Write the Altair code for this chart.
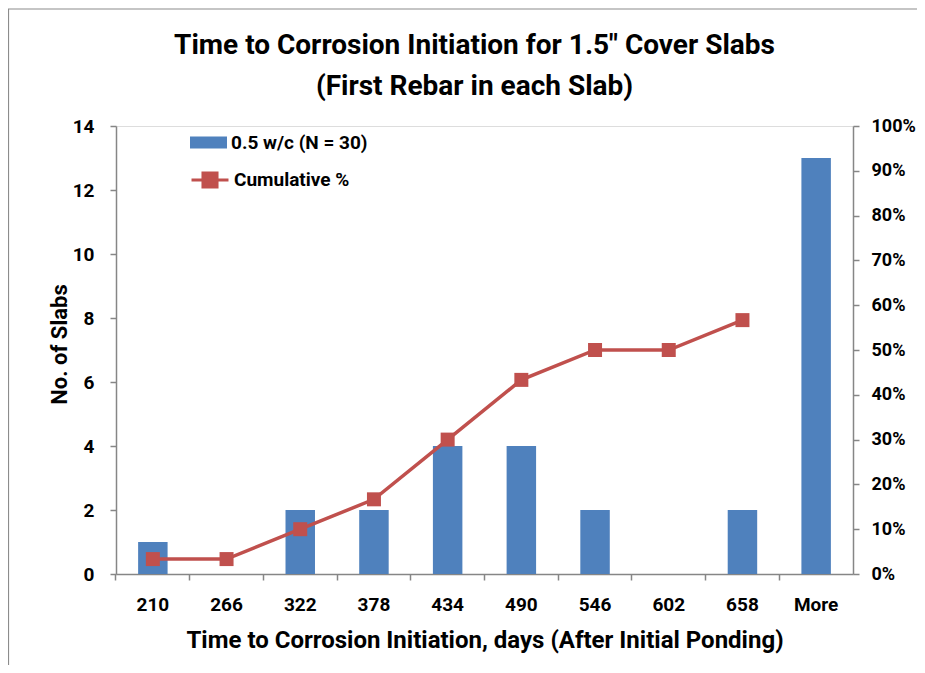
import altair as alt
import pandas as pd

categories = ["210", "266", "322", "378", "434", "490", "546", "602", "658", "More"]
counts = [1, 0, 2, 2, 4, 4, 2, 0, 2, 13]
cumulative = [0.0333, 0.0333, 0.10, 0.1667, 0.30, 0.4333, 0.50, 0.50, 0.5667, None]
bar_series = "0.5 w/c (N = 30)"
line_series = "Cumulative %"
y_left_ticks = [0, 2, 4, 6, 8, 10, 12, 14]
y_right_ticks = [i / 10 for i in range(11)]

df = pd.DataFrame({"bin": categories, "count": counts, "cum": cumulative})
df["s1"] = bar_series
df["s2"] = line_series

FONT = "Roboto"
BLUE = "#4F81BD"
RED = "#C0504D"
GRAY = "#868686"

xscale = alt.Scale(domain=categories, paddingInner=0.6, paddingOuter=0.3)
base = alt.Chart(df)

bars = base.mark_bar(color=BLUE).encode(
    x=alt.X("bin:N", scale=xscale, axis=alt.Axis(
        title="Time to Corrosion Initiation, days (After Initial Ponding)",
        labelAngle=0, ticks=False, domainColor=GRAY, domainWidth=1.5,
        labelPadding=21, labelFontSize=19, labelFont=FONT, labelFontWeight="bold",
        labelColor="black", titleFontSize=24, titleFont=FONT, titleFontWeight="bold",
        titleColor="black", titleY=66, titleBaseline="middle")),
    y=alt.Y("count:Q", scale=alt.Scale(domain=[0, 14], nice=False), axis=alt.Axis(
        values=y_left_ticks, title="No. of Slabs", grid=False, tickSize=6,
        tickColor=GRAY, tickWidth=1.5, domainColor=GRAY, domainWidth=1.5,
        labelPadding=16, labelFontSize=19, labelFont=FONT, labelFontWeight="bold",
        labelColor="black", titleFontSize=22, titleFont=FONT, titleFontWeight="bold",
        titleColor="black", titleX=-57, titleY=218, titleBaseline="middle",
        titleAlign="center")),
    fill=alt.Fill("s1:N", scale=alt.Scale(domain=[bar_series], range=[BLUE]),
                  legend=alt.Legend(title=None, orient="none", legendX=80, legendY=4,
                                    symbolType="M-1.5,-0.49H1.5V0.49H-1.5Z", symbolSize=608,
                                    symbolStrokeWidth=0, labelFont=FONT, labelFontSize=19,
                                    labelFontWeight="bold", labelColor="black",
                                    labelOffset=10, padding=0)),
)

line = base.transform_filter("datum.cum != null").mark_line(
    strokeWidth=3.5,
    point=alt.OverlayMarkDef(shape="square", size=196, filled=True, opacity=1),
).encode(
    x=alt.X("bin:N", scale=xscale, axis=alt.Axis(
        title=None, labels=False, domain=False, ticks=True, tickSize=6,
        bandPosition=-0.75, orient="bottom", tickColor=GRAY, tickWidth=1.5)),
    y=alt.Y("cum:Q", scale=alt.Scale(domain=[0, 1], nice=False), axis=alt.Axis(
        orient="right", format=".0%", values=y_right_ticks, title=None, grid=False,
        tickSize=6, tickColor=GRAY, tickWidth=1.5, domainColor=GRAY, domainWidth=1.5,
        labelPadding=12, labelFontSize=18, labelFont=FONT, labelFontWeight="bold",
        labelColor="black")),
    color=alt.Color("s2:N", scale=alt.Scale(domain=[line_series], range=[RED]),
                    legend=alt.Legend(title=None, orient="none", legendX=80, legendY=40,
                                      symbolType="M-1.5,0H1.5M-0.57,-0.57H0.57V0.57H-0.57Z",
                                      symbolSize=608, symbolStrokeWidth=3,
                                      symbolFillColor=RED, symbolStrokeColor=RED,
                                      labelFont=FONT, labelFontSize=19,
                                      labelFontWeight="bold", labelColor="black",
                                      labelOffset=10, padding=0)),
)

frame = alt.Chart(pd.DataFrame({"a": [0]})).mark_rect(
    fill=None, stroke="#8C8C8C", strokeWidth=1.2
).encode(
    x=alt.value(-107.5), x2=alt.value(900), y=alt.value(-117), y2=alt.value(700)
)

chart = alt.layer(frame, bars, line).resolve_scale(
    y="independent", fill="independent", color="independent"
).resolve_axis(x="independent").properties(
    width=737,
    height=448,
    title=alt.TitleParams(
        ["Time to Corrosion Initiation for 1.5\" Cover Slabs", "(First Rebar in each Slab)"],
        fontSize=28, font=FONT, fontWeight="bold", color="black", anchor="middle",
        baseline="bottom", offset=-121, lineHeight=41, dx=-10),
    autosize=alt.AutoSizeParams(type="none"),
    padding={"left": 108, "top": 118, "right": 64, "bottom": 91},
).configure_view(stroke=None).configure(background="white")

chart.save("out.html", embed_options={"renderer": "svg", "actions": False})
